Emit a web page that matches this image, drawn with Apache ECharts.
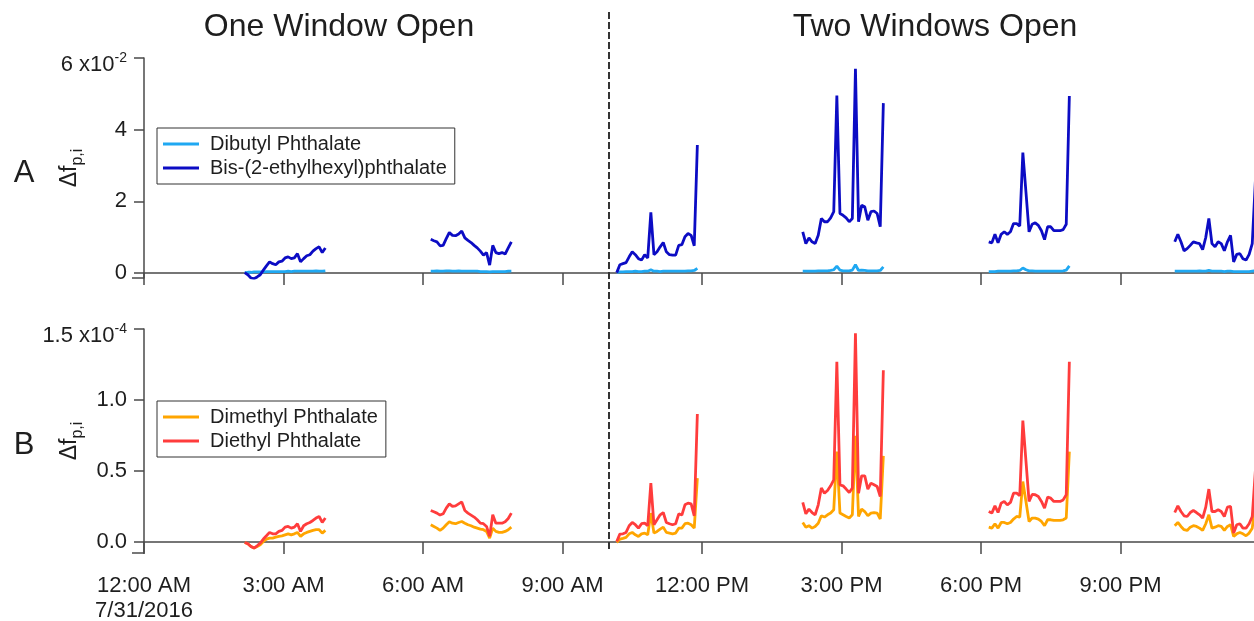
<!DOCTYPE html>
<html>
<head>
<meta charset="utf-8">
<script src="https://cdn.jsdelivr.net/npm/echarts@6/dist/echarts.min.js"></script>
<style>
  html, body { margin: 0; padding: 0; background: #ffffff; }
  #chart { width: 1254px; height: 621px; }
</style>
</head>
<body>
<div id="chart"></div>
<script>
// Each sampling window holds one point every 4 minutes.
const SAMPLE_MINUTES = 4;
// Start of each sampling window, 7/31/2016 (local clock).
const windowStarts = ['02:10', '06:10', '10:10', '14:10', '18:10', '22:10'];
// Hour at which the second window was opened.
const secondWindowOpened = 10;

// Panel A, in units of 1e-2
const dibutylPhthalate = [
  [0.01,0.02,0.02,0.03,0.03,0.03,0.03,0.04,0.04,0.04,0.04,0.04,0.04,0.04,0.05,0.04,0.05,0.05,0.05,0.05,0.05,0.05,0.05,0.06,0.05,0.05,0.06],
  [0.05,0.05,0.06,0.05,0.05,0.06,0.06,0.05,0.05,0.06,0.05,0.05,0.05,0.05,0.05,0.05,0.04,0.04,0.04,0.03,0.04,0.04,0.04,0.04,0.04,0.05,0.05],
  [0.02,0.03,0.03,0.04,0.04,0.04,0.05,0.04,0.04,0.05,0.05,0.09,0.05,0.05,0.04,0.05,0.05,0.05,0.05,0.05,0.05,0.05,0.05,0.06,0.06,0.07,0.13],
  [0.05,0.05,0.05,0.05,0.05,0.06,0.06,0.06,0.06,0.07,0.09,0.19,0.08,0.06,0.06,0.06,0.08,0.23,0.07,0.08,0.07,0.06,0.06,0.06,0.06,0.07,0.17],
  [0.04,0.04,0.04,0.05,0.05,0.05,0.05,0.05,0.06,0.06,0.07,0.14,0.09,0.06,0.06,0.05,0.05,0.05,0.05,0.05,0.05,0.05,0.05,0.05,0.06,0.08,0.20],
  [0.05,0.05,0.05,0.05,0.05,0.05,0.05,0.05,0.06,0.05,0.05,0.07,0.05,0.05,0.05,0.05,0.04,0.05,0.05,0.04,0.04,0.04,0.04,0.04,0.04,0.05,0.06]
];
const bisEthylhexylPhthalate = [
  [0.01,-0.05,-0.14,-0.16,-0.11,-0.05,0.08,0.20,0.31,0.26,0.23,0.31,0.33,0.42,0.45,0.40,0.42,0.54,0.31,0.40,0.48,0.51,0.61,0.68,0.73,0.57,0.70],
  [0.94,0.90,0.87,0.76,0.77,0.96,1.13,1.05,1.04,1.09,1.17,0.98,0.91,0.85,0.77,0.70,0.61,0.50,0.57,0.22,0.77,0.57,0.54,0.57,0.53,0.70,0.87],
  [0.01,0.23,0.26,0.29,0.45,0.59,0.51,0.40,0.36,0.51,0.42,1.69,0.51,0.59,0.73,0.85,0.59,0.51,0.50,0.50,0.77,0.79,1.01,1.10,1.05,0.76,3.57],
  [1.15,0.82,0.98,0.87,0.82,1.05,1.52,1.43,1.43,1.54,1.71,4.95,1.66,1.61,1.54,1.43,1.52,5.70,1.43,1.89,1.85,1.47,1.71,1.73,1.66,1.29,4.74],
  [0.87,0.84,1.08,0.84,1.08,1.15,1.08,1.15,1.38,1.38,1.31,3.36,2.26,1.15,1.36,1.40,1.33,1.18,0.93,1.29,1.29,1.18,1.18,1.18,1.21,1.36,4.94],
  [0.87,1.08,0.87,0.62,0.68,0.77,0.87,0.84,0.82,0.65,0.99,1.52,0.82,0.73,0.87,0.82,0.62,0.87,1.05,0.31,0.52,0.54,0.40,0.36,0.52,0.82,2.55]
];

// Panel B, in units of 1e-4
const dimethylPhthalate = [
  [-0.003,-0.012,-0.031,-0.042,-0.031,-0.019,0.004,0.021,0.028,0.028,0.035,0.040,0.044,0.051,0.058,0.051,0.058,0.068,0.040,0.058,0.068,0.075,0.082,0.087,0.087,0.063,0.082],
  [0.122,0.110,0.098,0.082,0.098,0.122,0.143,0.133,0.129,0.138,0.145,0.133,0.122,0.115,0.105,0.098,0.091,0.087,0.075,0.028,0.098,0.075,0.068,0.068,0.075,0.087,0.105],
  [-0.003,0.021,0.026,0.033,0.058,0.068,0.051,0.040,0.058,0.063,0.051,0.204,0.063,0.075,0.091,0.105,0.068,0.063,0.058,0.063,0.098,0.098,0.129,0.133,0.122,0.098,0.450],
  [0.138,0.105,0.115,0.098,0.110,0.133,0.185,0.176,0.192,0.204,0.227,0.637,0.204,0.192,0.180,0.169,0.192,0.748,0.180,0.232,0.215,0.185,0.204,0.208,0.204,0.162,0.607],
  [0.105,0.098,0.129,0.098,0.138,0.138,0.129,0.138,0.162,0.180,0.176,0.426,0.286,0.145,0.169,0.169,0.162,0.145,0.115,0.157,0.157,0.152,0.152,0.152,0.157,0.169,0.637],
  [0.115,0.138,0.110,0.087,0.082,0.105,0.115,0.110,0.098,0.082,0.129,0.192,0.098,0.105,0.115,0.110,0.082,0.110,0.122,0.040,0.058,0.068,0.058,0.044,0.063,0.098,0.270]
];
const diethylPhthalate = [
  [-0.003,-0.012,-0.031,-0.042,-0.026,-0.007,0.021,0.044,0.068,0.058,0.058,0.075,0.082,0.105,0.110,0.098,0.105,0.129,0.075,0.115,0.129,0.138,0.152,0.169,0.180,0.138,0.169],
  [0.222,0.213,0.204,0.190,0.199,0.239,0.269,0.251,0.255,0.269,0.283,0.222,0.204,0.190,0.176,0.157,0.133,0.129,0.110,0.040,0.192,0.133,0.133,0.133,0.143,0.166,0.204],
  [0.004,0.056,0.058,0.068,0.115,0.138,0.122,0.098,0.129,0.133,0.115,0.415,0.122,0.157,0.192,0.208,0.138,0.129,0.122,0.129,0.199,0.190,0.262,0.274,0.269,0.185,0.902],
  [0.279,0.199,0.232,0.208,0.192,0.262,0.380,0.344,0.363,0.396,0.438,1.270,0.403,0.396,0.373,0.349,0.380,1.470,0.344,0.466,0.466,0.373,0.415,0.403,0.391,0.321,1.210],
  [0.215,0.204,0.255,0.208,0.274,0.286,0.262,0.279,0.344,0.344,0.326,0.855,0.572,0.286,0.335,0.333,0.321,0.286,0.239,0.316,0.309,0.286,0.286,0.286,0.297,0.333,1.270],
  [0.208,0.255,0.215,0.185,0.180,0.208,0.222,0.208,0.192,0.169,0.246,0.373,0.215,0.215,0.227,0.215,0.180,0.246,0.251,0.063,0.122,0.129,0.098,0.098,0.129,0.180,0.500]
];

const yTicksA = [0, 2, 4, 6];
const yTicksB = [0, 0.5, 1.0, 1.5];
const timeTickLabels = ['12:00 AM\n7/31/2016', '3:00 AM', '6:00 AM', '9:00 AM',
                        '12:00 PM', '3:00 PM', '6:00 PM', '9:00 PM'];

const FONT = '"Liberation Sans", Arial, Helvetica, sans-serif';
const INK = '#1e1e1e';
const AXIS = '#4a4a4a';

function hoursOf(hhmm) {
  const [h, m] = hhmm.split(':').map(Number);
  return h + m / 60;
}

// Join the sampling windows into one series, breaking the line between windows.
function toSeriesData(windows) {
  const out = [];
  windows.forEach((vals, w) => {
    const t0 = hoursOf(windowStarts[w]);
    vals.forEach((v, i) => out.push([t0 + i * SAMPLE_MINUTES / 60, v]));
    out.push([t0 + 2, '-']);
  });
  return out;
}

function timeAxis(gridIndex, showLabels) {
  return {
    type: 'value', gridIndex, min: 0, max: 24, interval: 3,
    axisLine: { lineStyle: { color: AXIS, width: 1.5 } },
    axisTick: { length: 12, lineStyle: { color: AXIS, width: 1.5 } },
    splitLine: { show: false },
    axisLabel: {
      show: showLabels, margin: 20, color: INK, fontFamily: FONT, fontSize: 22, lineHeight: 25,
      formatter: v => (v < 24 ? timeTickLabels[Math.round(v / 3)] : '')
    }
  };
}

function valueAxis(gridIndex, min, max, ticks, topLabel, exp) {
  return {
    type: 'value', gridIndex, min, max,
    name: '{d|Δf}{s|p,i}', nameLocation: 'middle', nameRotate: 90, nameGap: 58,
    nameMoveOverlap: false,
    nameTextStyle: {
      color: INK, fontFamily: FONT,
      rich: {
        d: { fontSize: 23, fontFamily: FONT, color: INK, lineHeight: 28, verticalAlign: 'top' },
        s: { fontSize: 16, fontFamily: FONT, color: INK, lineHeight: 16, verticalAlign: 'bottom' }
      }
    },
    axisLine: { show: true, lineStyle: { color: AXIS, width: 1.5 } },
    axisTick: { show: true, length: 10, customValues: ticks, lineStyle: { color: AXIS, width: 1.5 } },
    splitLine: { show: false },
    axisLabel: {
      customValues: ticks, margin: 17, color: INK, fontFamily: FONT, fontSize: 22,
      formatter: v => (v === ticks[ticks.length - 1] ? '{n|' + topLabel + ' x10}{s|' + exp + '}' : topLabel === '6' ? String(v) : v.toFixed(1)),
      rich: {
        n: { fontSize: 22, fontFamily: FONT, color: INK, lineHeight: 36, verticalAlign: 'bottom' },
        s: { fontSize: 14, fontFamily: FONT, color: INK }
      }
    }
  };
}

const chart = echarts.init(document.getElementById('chart'), null, { renderer: 'canvas' });

const legendBase = {
  orient: 'vertical', left: 157, icon: 'rect', itemWidth: 36, itemHeight: 3, itemGap: 4,
  backgroundColor: '#ffffff', borderColor: '#333333', borderWidth: 1, borderRadius: 0,
  padding: [6, 8, 6, 6], selectedMode: false,
  textStyle: { fontFamily: FONT, fontSize: 20, color: INK, padding: [0, 0, 0, 6] }
};

const option = {
  animation: false,
  backgroundColor: '#ffffff',
  grid: [
    { left: 144, width: 1116, top: 58, height: 220, outerBoundsMode: 'none', containLabel: false },
    { left: 144, width: 1116, top: 329, height: 224, outerBoundsMode: 'none', containLabel: false }
  ],
  xAxis: [timeAxis(0, false), timeAxis(1, true)],
  yAxis: [
    valueAxis(0, -0.14, 6, yTicksA, '6', '-2'),
    valueAxis(1, -0.077, 1.5, yTicksB, '1.5', '-4')
  ],
  legend: [
    Object.assign({}, legendBase, { top: 128, data: ['Dibutyl Phthalate', 'Bis-(2-ethylhexyl)phthalate'] }),
    Object.assign({}, legendBase, { top: 401, data: ['Dimethyl Phthalate', 'Diethyl Phthalate'] })
  ],
  series: [
    { name: 'Dibutyl Phthalate', type: 'line', xAxisIndex: 0, yAxisIndex: 0, showSymbol: false, symbol: 'none',
      color: '#1fa8f2', lineStyle: { width: 2.8 }, data: toSeriesData(dibutylPhthalate) },
    { name: 'Bis-(2-ethylhexyl)phthalate', type: 'line', xAxisIndex: 0, yAxisIndex: 0, showSymbol: false, symbol: 'none',
      color: '#0c0cc4', lineStyle: { width: 2.8 }, data: toSeriesData(bisEthylhexylPhthalate) },
    { name: 'Dimethyl Phthalate', type: 'line', xAxisIndex: 1, yAxisIndex: 1, showSymbol: false, symbol: 'none',
      color: '#ffa500', lineStyle: { width: 2.8 }, data: toSeriesData(dimethylPhthalate) },
    { name: 'Diethyl Phthalate', type: 'line', xAxisIndex: 1, yAxisIndex: 1, showSymbol: false, symbol: 'none',
      color: '#ff3c3c', lineStyle: { width: 2.8 }, data: toSeriesData(diethylPhthalate) }
  ]
};
chart.setOption(option);

// Vertical divider at the moment the second window was opened, plus headings and panel letters.
const divX = chart.convertToPixel({ xAxisIndex: 0 }, secondWindowOpened);
const leftX0 = chart.convertToPixel({ xAxisIndex: 0 }, 0);
const yTopA = chart.convertToPixel({ yAxisIndex: 0 }, 0);
const yTopB = chart.convertToPixel({ yAxisIndex: 1 }, 0);
const yBottomA = chart.convertToPixel({ yAxisIndex: 0 }, -0.14);
const yBottomB = chart.convertToPixel({ yAxisIndex: 1 }, -0.077);
chart.setOption({
  graphic: [
    { type: 'line', silent: true, z: 10,
      shape: { x1: divX, y1: 12, x2: divX, y2: yBottomB - 3 },
      style: { stroke: '#333333', lineWidth: 2, lineDash: [7, 3] } },
    // short axis stubs left of the value axes
    { type: 'line', silent: true, shape: { x1: leftX0 - 12, y1: yBottomA, x2: leftX0, y2: yBottomA },
      style: { stroke: AXIS, lineWidth: 1.5 } },
    { type: 'line', silent: true, shape: { x1: leftX0 - 12, y1: yBottomB, x2: leftX0, y2: yBottomB },
      style: { stroke: AXIS, lineWidth: 1.5 } },
    { type: 'text', x: 339, y: 27,
      style: { text: 'One Window Open', fontFamily: FONT, fontSize: 32, fill: INK, textAlign: 'center', textVerticalAlign: 'middle' } },
    { type: 'text', x: 935, y: 27,
      style: { text: 'Two Windows Open', fontFamily: FONT, fontSize: 32, fill: INK, textAlign: 'center', textVerticalAlign: 'middle' } },
    { type: 'text', x: 24, y: yTopA - 100,
      style: { text: 'A', fontFamily: FONT, fontSize: 31, fill: INK, textAlign: 'center', textVerticalAlign: 'middle' } },
    { type: 'text', x: 24, y: yTopB - 97,
      style: { text: 'B', fontFamily: FONT, fontSize: 31, fill: INK, textAlign: 'center', textVerticalAlign: 'middle' } }
  ]
});
</script>
</body>
</html>
